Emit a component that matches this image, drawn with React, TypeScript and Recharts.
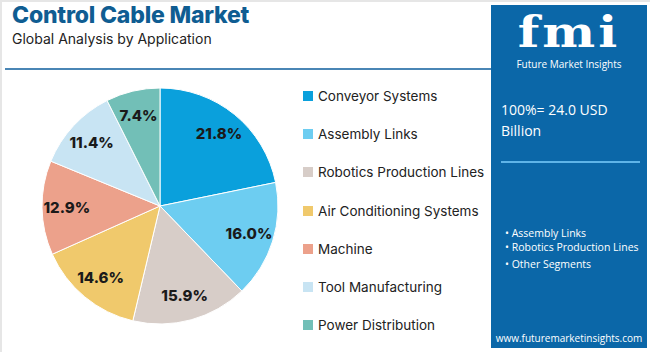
import React from "react";
import { PieChart, Pie, Cell } from "recharts";

const categories = [
  "Conveyor Systems",
  "Assembly Links",
  "Robotics Production Lines",
  "Air Conditioning Systems",
  "Machine",
  "Tool Manufacturing",
  "Power Distribution",
];
const shares = [21.8, 16.0, 15.9, 14.6, 12.9, 11.4, 7.4];
const colors = ["#0aa0dc", "#6dcdf1", "#d7cdc8", "#f0c96c", "#eca18b", "#c8e4f3", "#72bfb7"];
const bullets = ["Assembly Links", "Robotics Production Lines", "Other Segments"];

const data = categories.map((name, i) => ({ name, value: shares[i] }));

const RAD = Math.PI / 180;
const renderLabel = (props: any) => {
  const { cx, cy, midAngle, outerRadius, value } = props;
  const r = outerRadius * 0.79;
  const x = cx + r * Math.cos(-midAngle * RAD);
  const y = cy + r * Math.sin(-midAngle * RAD);
  return (
    <text
      x={x}
      y={y}
      textAnchor="middle"
      dominantBaseline="central"
      fill="#1a1a1a"
      fontFamily="Inter, sans-serif"
      fontWeight={800}
      fontSize={15}
    >
      {value.toFixed(1)}%
    </text>
  );
};

export default function App() {
  return (
    <div
      style={{
        position: "absolute",
        left: 0,
        top: 0,
        width: 650,
        height: 352,
        background: "#fff",
        overflow: "hidden",
        fontFamily: "Inter, sans-serif",
      }}
    >
      <div style={{ position: "absolute", left: 0, top: 0, width: 650, height: 2, background: "#e6e6e6" }} />
      <div style={{ position: "absolute", left: 0, top: 0, width: 2, height: 352, background: "#e6e6e6" }} />
      <div
        style={{
          position: "absolute",
          left: 12,
          top: 1,
          fontSize: 23,
          fontWeight: 800,
          color: "#0f5d92",
          whiteSpace: "nowrap",
          letterSpacing: -0.2,
        }}
      >
        Control Cable Market
      </div>
      <div
        style={{
          position: "absolute",
          left: 12,
          top: 30,
          fontSize: 14,
          color: "#222",
          whiteSpace: "nowrap",
        }}
      >
        Global Analysis by Application
      </div>
      <div style={{ position: "absolute", left: 5, top: 68, width: 487, height: 2, background: "#4a86b5" }} />

      <div style={{ position: "absolute", left: 0, top: 0 }}>
        <PieChart width={490} height={352} margin={{ top: 0, right: 0, bottom: 0, left: 0 }}>
          <Pie
            data={data}
            dataKey="value"
            nameKey="name"
            cx={160}
            cy={206}
            outerRadius={118}
            startAngle={90}
            endAngle={-270}
            stroke="#ffffff"
            strokeWidth={1}
            label={renderLabel}
            labelLine={false}
            isAnimationActive={false}
          >
            {data.map((d, i) => (
              <Cell key={d.name} fill={colors[i]} />
            ))}
          </Pie>
        </PieChart>
      </div>

      <div style={{ position: "absolute", left: 303, top: 77, width: 190 }}>
        {categories.map((c, i) => (
          <div
            key={c}
            style={{
              display: "flex",
              alignItems: "center",
              height: 38.2,
              fontSize: 13.5,
              color: "#222",
              whiteSpace: "nowrap",
            }}
          >
            <span
              style={{ width: 10, height: 10, background: colors[i], marginRight: 5, display: "inline-block" }}
            />
            <span>{c}</span>
          </div>
        ))}
      </div>

      <div
        style={{
          position: "absolute",
          left: 491,
          top: 5,
          width: 156,
          height: 343,
          background: "#0b67a8",
          color: "#fff",
          fontFamily: "'Open Sans', sans-serif",
        }}
      >
        <div
          style={{
            position: "absolute",
            left: 0,
            width: 156,
            top: 0,
            textAlign: "center",
            fontFamily: "'DejaVu Serif', serif",
            fontWeight: 700,
            fontSize: 50,
            lineHeight: "56px",
            letterSpacing: 3,
            transform: "scaleY(0.85)",
          }}
        >
          fmi
        </div>
        <div
          style={{
            position: "absolute",
            left: 0,
            width: 156,
            top: 52,
            textAlign: "center",
            fontSize: 10,
            whiteSpace: "nowrap",
          }}
        >
          Future Market Insights
        </div>
        <div style={{ position: "absolute", left: 10, top: 94, fontSize: 14, lineHeight: "21px" }}>
          100%= 24.0 USD
          <br />
          Billion
        </div>
        <div style={{ position: "absolute", left: 10, top: 156, width: 139, height: 2, background: "#5fb4e8" }} />
        <div style={{ position: "absolute", left: 14, top: 221, fontSize: 10.5, lineHeight: "14px" }}>
          {bullets.map((b, i) => (
            <div key={b} style={{ whiteSpace: "nowrap", marginTop: i === 2 ? 2.5 : 0 }}>
              • {b}
            </div>
          ))}
        </div>
        <div
          style={{
            position: "absolute",
            left: 0,
            width: 156,
            top: 326,
            textAlign: "center",
            fontSize: 10,
            whiteSpace: "nowrap",
          }}
        >
          www.futuremarketinsights.com
        </div>
      </div>
    </div>
  );
}
